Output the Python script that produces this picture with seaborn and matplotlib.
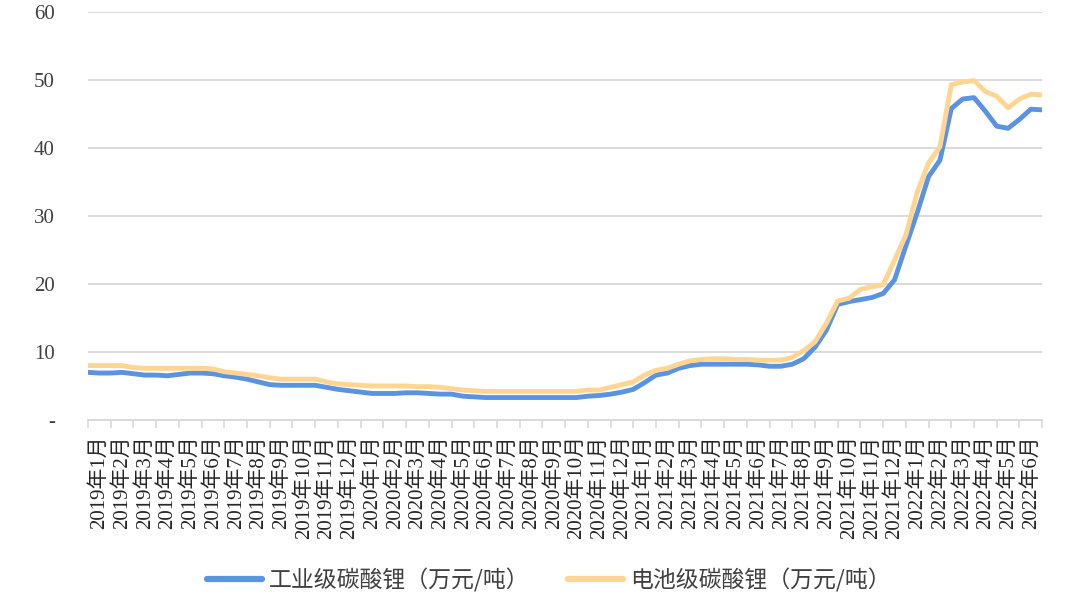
import numpy as np
import pandas as pd
import matplotlib
matplotlib.use("Agg")
import matplotlib.pyplot as plt
import seaborn as sns

# Monthly labels (category axis)
months = [f"{y}年{m}月" for y in (2019, 2020, 2021) for m in range(1, 13)] + \
         [f"2022年{m}月" for m in range(1, 7)]

# Prices, twice a month (万元/吨)
industrial = [
    7.0, 6.9, 6.9, 7.0, 6.8, 6.6, 6.6, 6.5, 6.7, 6.9, 6.9, 6.8,
    6.5, 6.3, 6.0, 5.6, 5.2, 5.1, 5.1, 5.1, 5.1, 4.8, 4.5, 4.3,
    4.1, 3.9, 3.9, 3.9, 4.0, 4.0, 3.9, 3.8, 3.8, 3.5, 3.4, 3.3,
    3.3, 3.3, 3.3, 3.3, 3.3, 3.3, 3.3, 3.3, 3.5, 3.6, 3.8, 4.1,
    4.5, 5.5, 6.6, 6.9, 7.6, 8.0, 8.2, 8.2, 8.2, 8.2, 8.2, 8.1,
    7.9, 7.9, 8.2, 9.0, 10.7, 13.2, 17.0, 17.4, 17.7, 18.0, 18.6, 20.6,
    25.6, 30.5, 35.8, 38.2, 45.8, 47.2, 47.4, 45.4, 43.2, 42.9, 44.2, 45.7,
    45.6,
]
battery = [
    8.0, 8.0, 8.0, 8.0, 7.7, 7.6, 7.6, 7.6, 7.6, 7.6, 7.6, 7.5,
    7.1, 6.9, 6.7, 6.5, 6.2, 6.0, 6.0, 6.0, 6.0, 5.6, 5.3, 5.2,
    5.1, 5.0, 5.0, 5.0, 5.0, 4.9, 4.9, 4.8, 4.6, 4.4, 4.3, 4.2,
    4.2, 4.2, 4.2, 4.2, 4.2, 4.2, 4.2, 4.2, 4.4, 4.4, 4.8, 5.2,
    5.6, 6.6, 7.3, 7.6, 8.2, 8.7, 8.9, 9.0, 9.0, 8.9, 8.9, 8.8,
    8.8, 8.8, 9.2, 10.2, 11.5, 14.2, 17.5, 17.9, 19.2, 19.6, 19.9, 23.5,
    27.2, 33.5, 37.8, 40.2, 49.3, 49.7, 49.9, 48.3, 47.6, 45.9, 47.2, 47.9,
    47.8,
]
series_names = ["工业级碳酸锂（万元/吨）", "电池级碳酸锂（万元/吨）"]
colors = ["#5B93E3", "#FFD591"]

pos = np.arange(len(industrial)) * 0.5
df = pd.DataFrame({
    "pos": np.concatenate([pos, pos]),
    "price": industrial + battery,
    "series": [series_names[0]] * len(pos) + [series_names[1]] * len(pos),
})

sns.set_theme(style="white")
plt.rcParams["font.family"] = ["Liberation Serif", "Noto Sans CJK SC"]

fig = plt.figure(figsize=(10.8, 5.98), dpi=100)
ax = fig.add_axes([0.0815, 0.2977, 0.8835, 0.6823])

sns.lineplot(data=df, x="pos", y="price", hue="series", palette=colors,
             linewidth=3.5, ax=ax, legend=False)

ax.set_xlim(0, len(months))
ax.set_ylim(0, 60)
ax.set_yticks([0, 10, 20, 30, 40, 50, 60])
ax.set_yticklabels(["-", "10", "20", "30", "40", "50", "60"],
                   fontsize=15, color="#404040")
ax.yaxis.grid(True, color="#D9D9D9", linewidth=1.4)
ax.set_axisbelow(True)
ax.tick_params(axis="y", length=0, pad=24)

ax.set_xticks(np.arange(len(months) + 1))
ax.set_xticks(np.arange(len(months)) + 0.5, minor=True)
ax.set_xticklabels([])
ax.set_xticklabels(months, minor=True, rotation=90, fontsize=15,
                   color="#262626")
ax.tick_params(axis="x", which="major", direction="out", length=6,
               color="#D9D9D9", width=1.2, bottom=True)
ax.tick_params(axis="x", which="minor", length=0, pad=11)
ax.set_xlabel("")
ax.set_ylabel("")

for s in ["top", "right", "left"]:
    ax.spines[s].set_visible(False)
ax.spines["bottom"].set_color("#D9D9D9")
ax.spines["bottom"].set_linewidth(1.4)

handles = [plt.Line2D([], [], color=c, linewidth=4.5) for c in colors]
fig.legend(handles, series_names, loc="lower center", ncol=2,
           bbox_to_anchor=(0.508, -0.025), frameon=False,
           prop={"family": ["Noto Sans CJK SC"], "size": 16.5},
           labelcolor="#404040", handlelength=2.4, handletextpad=0.3,
           columnspacing=1.7)

plt.savefig("out.png", dpi=100)
